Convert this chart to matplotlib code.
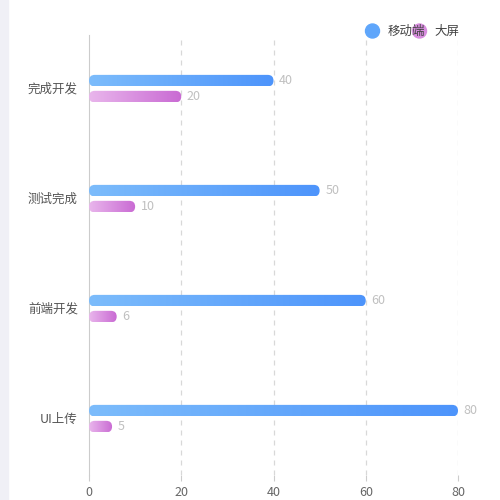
import matplotlib
matplotlib.use("Agg")
import matplotlib.pyplot as plt
import numpy as np
from matplotlib.patches import FancyBboxPatch, Rectangle, Circle
from matplotlib.colors import LinearSegmentedColormap

plt.rcParams['font.family'] = ['Noto Sans CJK SC', 'DejaVu Sans']

categories = ['完成开发', '测试完成', '前端开发', 'UI上传']
mobile = [40, 50, 60, 80]
screen = [20, 10, 6, 5]
series_names = ['移动端', '大屏']

fig = plt.figure(figsize=(5, 5), dpi=100)
fig.patches.append(Rectangle((0, 0), 0.016, 1, transform=fig.transFigure, color='#f0f0f6', zorder=0))
ax = fig.add_axes([0.178, 0.05, 0.738, 0.88])
ax.set_xlim(0, 80)
ax.set_ylim(3.52, -0.48)

cm_blue = LinearSegmentedColormap.from_list('b', ['#7cbcfb', '#4d94fb'])
cm_pink = LinearSegmentedColormap.from_list('p', ['#e9b6ec', '#c96ad3'])
grad = np.linspace(0, 1, 256).reshape(1, -1)
h = 0.105
aspect = (4 / 440) / (80 / 369)

def gbar(y, v, cmap):
    patch = FancyBboxPatch((0, y - h / 2), v, h,
                           boxstyle="round,pad=0,rounding_size=%f" % (h / 2 / aspect),
                           mutation_aspect=aspect, linewidth=0, facecolor='none')
    ax.add_patch(patch)
    im = ax.imshow(grad, cmap=cmap, extent=(0, v, y + h / 2, y - h / 2), aspect='auto', zorder=3)
    im.set_clip_path(patch)
    ax.text(v + 1.2, y, str(v), va='center', ha='left', color='#c0c0c0', fontsize=9)

for i in range(len(categories)):
    gbar(i - 0.065, mobile[i], cm_blue)
    gbar(i + 0.08, screen[i], cm_pink)

ax.set_xlim(0, 80)
ax.set_ylim(3.52, -0.48)
ax.set_yticks(range(len(categories)))
ax.set_yticklabels(categories, fontsize=9, color='#555555')
ax.set_xticks([0, 20, 40, 60, 80])
ax.tick_params(axis='x', colors='#666666', labelsize=9, length=4, pad=4)
ax.tick_params(axis='y', length=0, pad=8)
for x in [20, 40, 60, 80]:
    ax.axvline(x, color='#d8d8d8', linestyle=(0, (4, 4)), linewidth=0.9, zorder=1)
for s in ['top', 'right', 'bottom']:
    ax.spines[s].set_visible(False)
ax.spines['left'].set_color('#cccccc')
ax.tick_params(axis='x', color='#cccccc')

# legend
fig.patches.append(Circle((0.745, 0.938), 0.014, transform=fig.transFigure, color='#5fa6fb'))
fig.text(0.775, 0.938, series_names[0], va='center', fontsize=9, color='#444444')
fig.patches.append(Circle((0.839, 0.938), 0.014, transform=fig.transFigure, color='#d88ddf'))
fig.text(0.868, 0.938, series_names[1], va='center', fontsize=9, color='#444444')

fig.savefig('out.png', dpi=100)
